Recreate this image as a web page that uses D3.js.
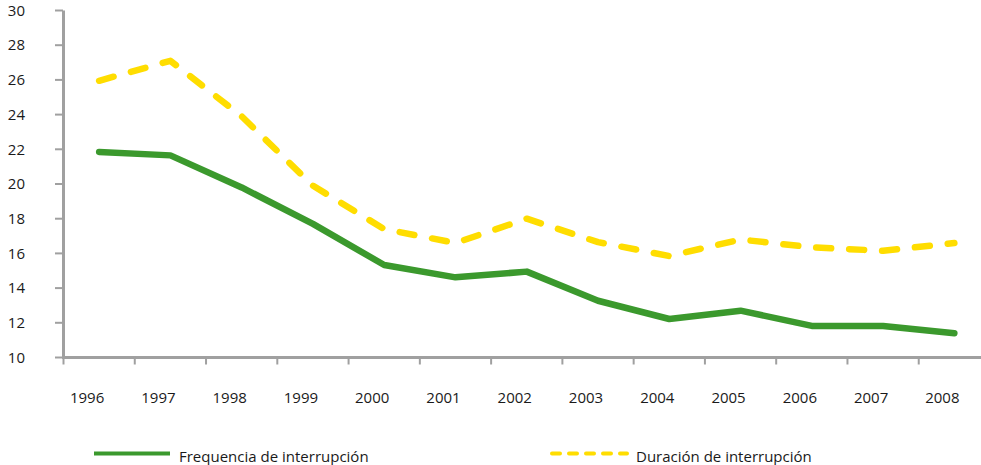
<!DOCTYPE html>
<html>
<head>
<meta charset="utf-8">
<script src="https://cdn.jsdelivr.net/npm/d3@7"></script>
<style>
  html, body { margin: 0; padding: 0; background: #fff; }
  svg { display: block; font-family: "Open Sans", "Noto Sans", sans-serif; }
</style>
</head>
<body>
<svg id="chart" width="981" height="465"></svg>
<script>
// Interruption indicators per year
const years = ["1996", "1997", "1998", "1999", "2000", "2001", "2002", "2003", "2004", "2005", "2006", "2007", "2008"];
const frecuencia = [21.85, 21.65, 19.8, 17.7, 15.33, 14.62, 14.95, 13.27, 12.22, 12.7, 11.82, 11.82, 11.4];
const duracion = [25.95, 27.1, 23.9, 19.9, 17.4, 16.6, 18.0, 16.65, 15.85, 16.8, 16.35, 16.15, 16.6];
const yTicks = [10, 12, 14, 16, 18, 20, 22, 24, 26, 28, 30];
const seriesNames = ["Frequencia de interrupción", "Duración de interrupción"];

const svg = d3.select("#chart");
const axisColor = "#a0a0a0";
const green = "#3b992d";
const yellow = "#ffdd00";

const x = d3.scaleBand().domain(years).range([63.5, 990]);
const y = d3.scaleLinear().domain([10, 30]).range([357.5, 10.5]);

// Y axis
const yAxis = svg.append("g");
yAxis.append("line")
  .attr("x1", 63.5).attr("x2", 63.5)
  .attr("y1", y(30)).attr("y2", y(10) + 1)
  .attr("stroke", axisColor).attr("stroke-width", 3);
yAxis.selectAll("line.tick").data(yTicks).join("line")
  .attr("class", "tick")
  .attr("x1", 55).attr("x2", 63)
  .attr("y1", d => y(d)).attr("y2", d => y(d))
  .attr("stroke", axisColor).attr("stroke-width", 2);
yAxis.selectAll("text").data(yTicks).join("text")
  .attr("x", 25).attr("y", d => y(d))
  .attr("dy", "0.35em")
  .attr("text-anchor", "end")
  .attr("font-size", 15)
  .attr("fill", "#1a1a1a")
  .text(d => d);

// X axis
const xAxis = svg.append("g");
xAxis.append("line")
  .attr("x1", 62).attr("x2", 990)
  .attr("y1", y(10)).attr("y2", y(10))
  .attr("stroke", axisColor).attr("stroke-width", 3);
xAxis.selectAll("line.tick").data(years).join("line")
  .attr("class", "tick")
  .attr("x1", d => x(d)).attr("x2", d => x(d))
  .attr("y1", y(10)).attr("y2", y(10) + 7)
  .attr("stroke", axisColor).attr("stroke-width", 2);
xAxis.selectAll("text").data(years).join("text")
  .attr("x", d => x(d) + x.bandwidth() / 2 - 12)
  .attr("y", 403)
  .attr("text-anchor", "middle")
  .attr("font-size", 15)
  .attr("fill", "#1a1a1a")
  .text(d => d);

const line = d3.line()
  .x((d, i) => x(years[i]) + x.bandwidth() / 2)
  .y(d => y(d));

svg.append("path")
  .datum(duracion)
  .attr("d", line)
  .attr("fill", "none")
  .attr("stroke", yellow)
  .attr("stroke-width", 6.5)
  .attr("stroke-linecap", "round")
  .attr("stroke-linejoin", "round")
  .attr("stroke-dasharray", "15,18");

svg.append("path")
  .datum(frecuencia)
  .attr("d", line)
  .attr("fill", "none")
  .attr("stroke", green)
  .attr("stroke-width", 6.5)
  .attr("stroke-linecap", "round")
  .attr("stroke-linejoin", "round");

// Legend
const legend = svg.append("g");
legend.append("line")
  .attr("x1", 94).attr("x2", 170).attr("y1", 453.5).attr("y2", 453.5)
  .attr("stroke", green).attr("stroke-width", 4);
legend.append("text")
  .attr("x", 179).attr("y", 462)
  .attr("font-size", 15).attr("fill", "#1a1a1a")
  .text(seriesNames[0]);
legend.append("line")
  .attr("x1", 552).attr("x2", 627).attr("y1", 453.5).attr("y2", 453.5)
  .attr("stroke", yellow).attr("stroke-width", 4)
  .attr("stroke-linecap", "round")
  .attr("stroke-dasharray", "8,9");
legend.append("text")
  .attr("x", 636).attr("y", 462)
  .attr("font-size", 15).attr("fill", "#1a1a1a")
  .text(seriesNames[1]);
</script>
</body>
</html>
